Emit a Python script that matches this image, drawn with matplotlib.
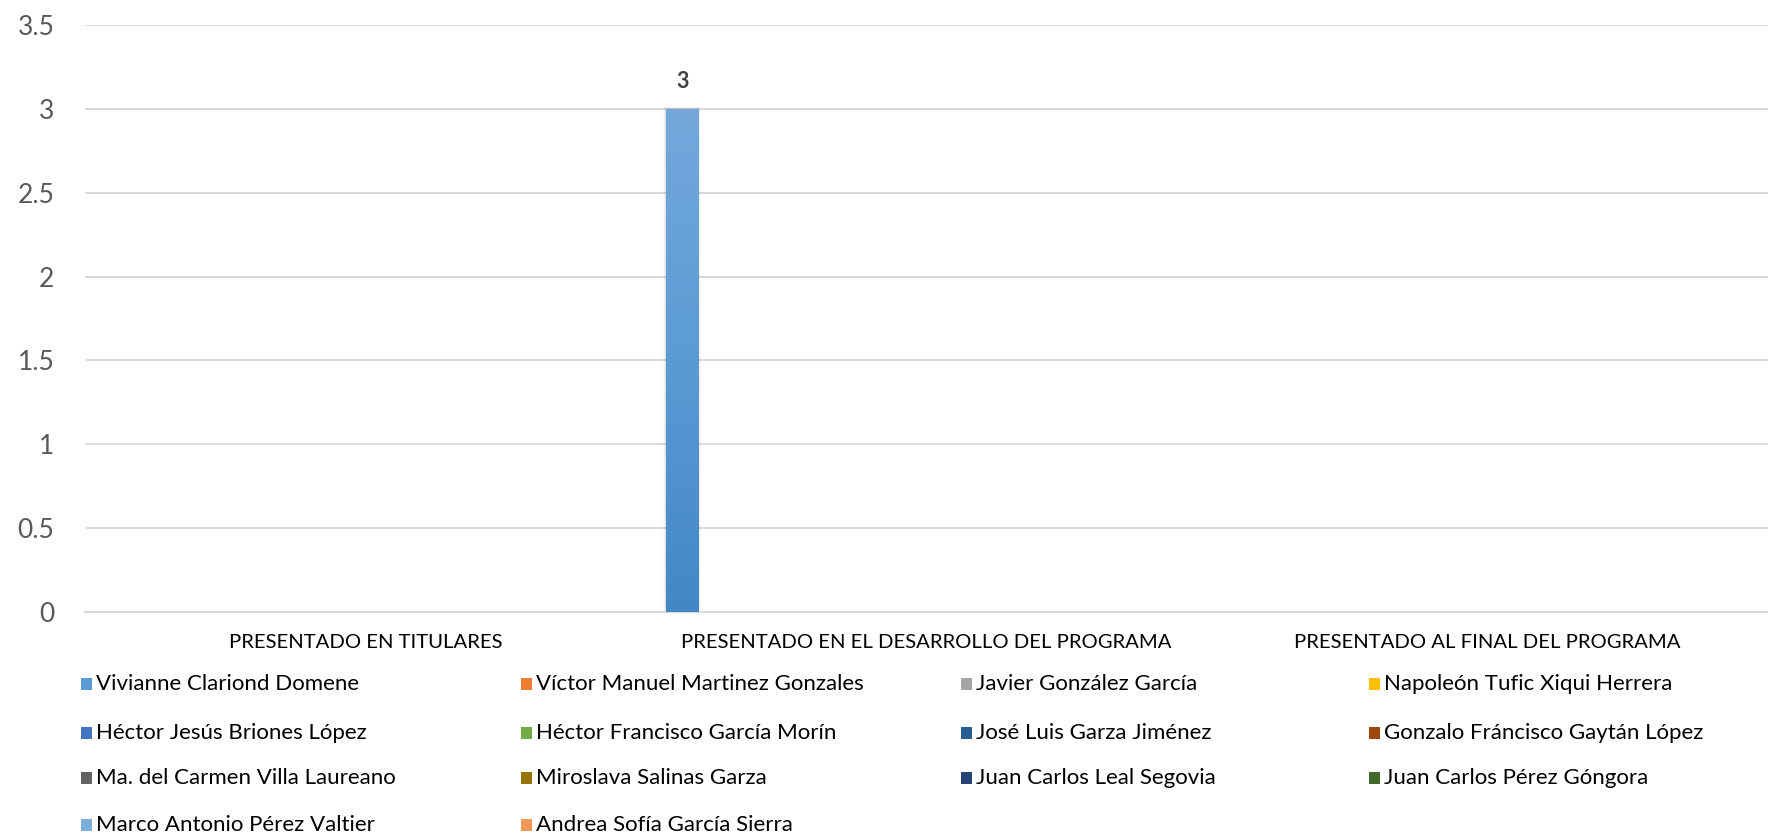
import numpy as np
import matplotlib
matplotlib.use('Agg')
import matplotlib.pyplot as plt
from matplotlib.patches import Rectangle
from matplotlib.colors import LinearSegmentedColormap

plt.rcParams['font.family'] = ['Lato', 'DejaVu Sans']

# categories on the x axis
categories = ['PRESENTADO EN TITULARES',
              'PRESENTADO EN EL DESARROLLO DEL PROGRAMA',
              'PRESENTADO AL FINAL DEL PROGRAMA']

# one series per person, values per category
series_names = ['Vivianne Clariond Domene', 'Víctor Manuel Martinez Gonzales',
                'Javier González García', 'Napoleón Tufic Xiqui Herrera',
                'Héctor Jesús Briones López', 'Héctor Francisco García Morín',
                'José Luis Garza Jiménez', 'Gonzalo Fráncisco Gaytán López',
                'Ma. del Carmen Villa Laureano', 'Miroslava Salinas Garza',
                'Juan Carlos Leal Segovia', 'Juan Carlos Pérez Góngora',
                'Marco Antonio Pérez Valtier', 'Andrea Sofía García Sierra']
series_values = [
    [0, 3, 0],
    [0, 0, 0],
    [0, 0, 0],
    [0, 0, 0],
    [0, 0, 0],
    [0, 0, 0],
    [0, 0, 0],
    [0, 0, 0],
    [0, 0, 0],
    [0, 0, 0],
    [0, 0, 0],
    [0, 0, 0],
    [0, 0, 0],
    [0, 0, 0],
]
series_colors = ['#5B9BD5', '#ED7D31', '#A5A5A5', '#FFC000', '#4472C4', '#70AD47',
                 '#255E91', '#9E480E', '#636363', '#997300', '#264478', '#43682B',
                 '#7CAFDD', '#F1975A']

yticks = [0, 0.5, 1, 1.5, 2, 2.5, 3, 3.5]
ytick_labels = ['0', '0.5', '1', '1.5', '2', '2.5', '3', '3.5']

fig = plt.figure(figsize=(17.68, 8.35), dpi=100)
ax = fig.add_axes([0.048, 0.267, 0.952, 0.703])

n = len(series_names)
x = np.arange(len(categories))
step = 0.067
width = 0.0588

for i, (vals, col) in enumerate(zip(series_values, series_colors)):
    pos = x + (i - (n - 1) / 2) * step
    bars = ax.bar(pos, vals, width=width, color=col, zorder=3)
    for b, v in zip(bars, vals):
        if v <= 0:
            continue
        # vertical gradient fill, lighter at the top
        cmap = LinearSegmentedColormap.from_list('g', ['#4387C7', '#5B9BD5', '#74A8DC'])
        bx, bw, bh = b.get_x(), b.get_width(), b.get_height()
        b.set_facecolor('none')
        grad = np.linspace(0, 1, 256).reshape(-1, 1)
        im = ax.imshow(grad, extent=[bx, bx + bw, 0, bh], origin='lower', cmap=cmap,
                       aspect='auto', zorder=3)
        im.set_clip_path(b)
        # soft shadow around the bar
        for k, a in enumerate([0.06, 0.04, 0.02]):
            pad = 0.0015 * (k + 1)
            ax.add_patch(Rectangle((bx - pad, 0), bw + 2 * pad, bh + pad * 4,
                                   color='black', alpha=a, lw=0, zorder=2))
        ax.text(b.get_x() + bw / 2, v + 0.1, f'{v:g}', ha='center', va='bottom',
                fontsize=15.5, fontweight='bold', color='#404040')

ax.set_xlim(-0.5, len(categories) - 0.5)
ax.set_ylim(0, 3.5)
ax.set_yticks(yticks)
ax.set_yticklabels(ytick_labels)
ax.set_xticks(x)
ax.set_xticklabels(categories)
ax.tick_params(axis='y', length=0, pad=22, labelsize=19, labelcolor='#595959')
ax.tick_params(axis='x', length=0, pad=16, labelsize=14.6, labelcolor='black')
ax.grid(axis='y', color='#D9D9D9', lw=1.4, zorder=0)
for s in ['top', 'right', 'left']:
    ax.spines[s].set_visible(False)
ax.spines['bottom'].set_color('#D9D9D9')
ax.spines['bottom'].set_linewidth(1.4)

# legend laid out row by row
col_x = [81, 521, 961, 1369]
row_y = [684, 733, 778, 825]
W, H = 1768, 835
for i, (name, col) in enumerate(zip(series_names, series_colors)):
    r, c = divmod(i, 4)
    px, py = col_x[c], row_y[r]
    fig.patches.append(Rectangle((px / W, 1 - (py + 6) / H), 11 / W, 12 / H,
                                 transform=fig.transFigure, color=col, lw=0))
    fig.text((px + 15) / W, 1 - py / H, name, ha='left', va='center',
             fontsize=16, color='black')

fig.savefig('out.png', dpi=100)
